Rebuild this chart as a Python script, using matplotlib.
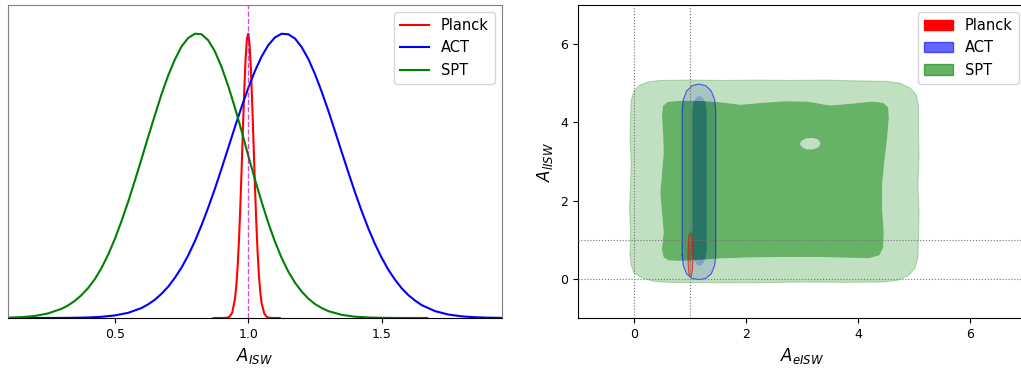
import numpy as np
import matplotlib
matplotlib.use('Agg')
import matplotlib.pyplot as plt
from matplotlib.path import Path
from matplotlib.patches import PathPatch, Patch

# 1D posteriors of A_ISW (normalised to peak)
spt_x = [0.10, 0.15, 0.20, 0.25, 0.300, 0.325, 0.350, 0.375, 0.400, 0.425, 0.450, 0.475,
         0.500, 0.525, 0.550, 0.575, 0.600, 0.625, 0.650, 0.675, 0.700, 0.725, 0.750,
         0.775, 0.800, 0.825, 0.850, 0.875, 0.900, 0.925, 0.950, 0.975, 1.000, 1.025,
         1.050, 1.075, 1.100, 1.125, 1.150, 1.175, 1.200, 1.225, 1.250, 1.275, 1.300,
         1.35, 1.40, 1.45, 1.50, 1.55, 1.60, 1.67]
spt_p = [0.001, 0.003, 0.007, 0.016, 0.032, 0.044, 0.060, 0.080, 0.105, 0.136, 0.175, 0.222,
         0.277, 0.340, 0.408, 0.482, 0.558, 0.636, 0.712, 0.786, 0.852, 0.908, 0.954,
         0.984, 0.999, 0.997, 0.976, 0.937, 0.882, 0.815, 0.739, 0.657, 0.570, 0.487,
         0.408, 0.334, 0.268, 0.211, 0.163, 0.124, 0.093, 0.068, 0.049, 0.035, 0.024,
         0.011, 0.0046, 0.0018, 0.0007, 0.0002, 0.0, 0.0]

act_x = [0.10, 0.20, 0.30, 0.35, 0.40, 0.45, 0.50, 0.55, 0.60, 0.625, 0.650, 0.675, 0.700,
         0.725, 0.750, 0.775, 0.800, 0.825, 0.850, 0.875, 0.900, 0.925, 0.950, 0.975,
         1.000, 1.025, 1.050, 1.075, 1.100, 1.125, 1.150, 1.175, 1.200, 1.225, 1.250,
         1.275, 1.300, 1.325, 1.350, 1.375, 1.400, 1.425, 1.450, 1.475, 1.500, 1.525,
         1.550, 1.575, 1.600, 1.625, 1.650, 1.70, 1.75, 1.80, 1.85, 1.90, 1.95]
act_p = [0.0, 0.0, 0.0003, 0.0008, 0.0018, 0.0042, 0.009, 0.018, 0.035, 0.048, 0.064, 0.085,
         0.110, 0.141, 0.177, 0.220, 0.270, 0.326, 0.388, 0.454, 0.525, 0.598, 0.671,
         0.742, 0.808, 0.868, 0.919, 0.959, 0.986, 0.999, 0.997, 0.982, 0.952, 0.910,
         0.857, 0.795, 0.728, 0.656, 0.583, 0.511, 0.441, 0.375, 0.314, 0.259, 0.211,
         0.169, 0.134, 0.104, 0.080, 0.061, 0.045, 0.024, 0.012, 0.0057, 0.0026, 0.0011,
         0.0004]

planck_x = [0.870, 0.900, 0.920, 0.930, 0.940, 0.950, 0.955, 0.960, 0.965, 0.970, 0.975,
            0.980, 0.985, 0.990, 0.995, 1.000, 1.005, 1.010, 1.015, 1.020, 1.025, 1.030,
            1.035, 1.040, 1.045, 1.050, 1.060, 1.070, 1.080, 1.100, 1.118]
planck_p = [0.0, 0.0, 0.0008, 0.0045, 0.019, 0.066, 0.111, 0.178, 0.270, 0.385, 0.520,
            0.664, 0.801, 0.912, 0.982, 0.999, 0.960, 0.872, 0.748, 0.607, 0.465, 0.337,
            0.230, 0.149, 0.091, 0.052, 0.015, 0.0033, 0.0006, 0.0, 0.0]

# 2D contours (95% / 68%) of A_eISW vs A_lISW
spt_outer = [(-0.07, 0.60), (-0.06, 1.20), (-0.08, 1.80), (-0.06, 2.40), (-0.05, 3.00),
             (-0.07, 3.60), (-0.06, 4.20), (-0.05, 4.55), (0.00, 4.80), (0.10, 4.95),
             (0.25, 5.03), (0.45, 5.07), (1.00, 5.08), (1.60, 5.07), (2.20, 5.08),
             (2.80, 5.07), (3.40, 5.08), (4.00, 5.06), (4.50, 5.05), (4.75, 5.00),
             (4.93, 4.88), (5.04, 4.70), (5.08, 4.45), (5.08, 3.80), (5.09, 3.10),
             (5.07, 2.40), (5.09, 1.70), (5.08, 1.00), (5.07, 0.55), (5.02, 0.28),
             (4.90, 0.08), (4.70, -0.04), (4.45, -0.08), (3.80, -0.09), (3.00, -0.08),
             (2.20, -0.10), (1.40, -0.10), (0.60, -0.09), (0.35, -0.06), (0.15, 0.02),
             (0.00, 0.15), (-0.05, 0.35)]
spt_inner = [(0.50, 0.75), (0.53, 1.20), (0.50, 1.70), (0.47, 2.20), (0.50, 2.70),
             (0.53, 3.20), (0.52, 3.70), (0.50, 4.20), (0.52, 4.42), (0.60, 4.52),
             (0.80, 4.55), (1.10, 4.55), (1.50, 4.52), (1.90, 4.45), (2.30, 4.50),
             (2.70, 4.54), (3.10, 4.53), (3.50, 4.43), (3.90, 4.48), (4.25, 4.53),
             (4.45, 4.50), (4.54, 4.38), (4.55, 4.10), (4.52, 3.60), (4.47, 3.00),
             (4.43, 2.40), (4.43, 1.80), (4.46, 1.20), (4.45, 0.80), (4.38, 0.60),
             (4.20, 0.53), (3.80, 0.54), (3.30, 0.56), (2.70, 0.56), (2.10, 0.55),
             (1.50, 0.52), (1.10, 0.48), (0.80, 0.46), (0.62, 0.47), (0.53, 0.55)]
spt_island = [(2.96, 3.45), (3.00, 3.54), (3.08, 3.59), (3.20, 3.60), (3.29, 3.56),
              (3.33, 3.47), (3.30, 3.37), (3.20, 3.31), (3.08, 3.31), (3.00, 3.37)]

act_outer = [(0.86, 0.60), (0.86, 1.50), (0.86, 2.50), (0.86, 3.50), (0.86, 4.30),
             (0.88, 4.58), (0.94, 4.80), (1.04, 4.94), (1.16, 4.98), (1.28, 4.94),
             (1.38, 4.80), (1.44, 4.58), (1.46, 4.30), (1.46, 3.50), (1.46, 2.50),
             (1.46, 1.50), (1.46, 0.60), (1.44, 0.34), (1.38, 0.13), (1.28, 0.01),
             (1.16, -0.02), (1.04, 0.01), (0.94, 0.13), (0.88, 0.34)]
act_inner = [(1.04, 0.75), (1.04, 2.00), (1.04, 3.50), (1.04, 4.30), (1.06, 4.50),
             (1.11, 4.63), (1.17, 4.68), (1.23, 4.63), (1.28, 4.50), (1.30, 4.30),
             (1.30, 3.50), (1.30, 2.00), (1.30, 0.75), (1.28, 0.52), (1.23, 0.38),
             (1.17, 0.33), (1.11, 0.38), (1.06, 0.52)]

planck_outer = [(1.01, 1.20), (1.035, 1.10), (1.05, 0.85), (1.055, 0.55), (1.045, 0.25),
                (1.025, 0.08), (1.005, 0.04), (0.985, 0.10), (0.97, 0.30), (0.965, 0.60),
                (0.97, 0.90), (0.985, 1.12)]
planck_inner = [(1.01, 0.98), (1.025, 0.80), (1.03, 0.55), (1.02, 0.30), (1.005, 0.22),
                (0.99, 0.32), (0.985, 0.60), (0.99, 0.85)]


def oriented(points, ccw):
    p = np.asarray(points, float)
    area = 0.5 * np.sum(p[:, 0] * np.roll(p[:, 1], -1) - np.roll(p[:, 0], -1) * p[:, 1])
    if (area > 0) != ccw:
        p = p[::-1]
    return p


def band(rings, **kw):
    # first ring filled, next one cut out, next filled again ...
    verts, codes = [], []
    for i, r in enumerate(rings):
        r = oriented(r, i % 2 == 0)
        verts += list(r) + [r[0]]
        codes += [Path.MOVETO] + [Path.LINETO] * (len(r) - 1) + [Path.CLOSEPOLY]
    return PathPatch(Path(verts, codes), **kw)


def outline(ax, points, **kw):
    p = np.asarray(points + points[:1])
    ax.plot(p[:, 0], p[:, 1], **kw)


fig = plt.figure(figsize=(10.21, 3.72), dpi=100)

# left: 1D
ax = fig.add_axes([0.0078, 0.1452, 0.4838, 0.8414])
ax.plot(planck_x, planck_p, color='red', lw=1.5, label='Planck')
ax.plot(act_x, act_p, color='blue', lw=1.5, label='ACT')
ax.plot(spt_x, spt_p, color='green', lw=1.5, label='SPT')
ax.axvline(1.0, color='m', ls='--', lw=1, alpha=0.7)
ax.set_xlim(0.1, 1.95)
ax.set_ylim(0, 1.1)
ax.set_yticks([])
ax.set_xticks([0.5, 1.0, 1.5])
ax.tick_params(labelsize=9)
for s in ['left', 'top', 'right']:
    ax.spines[s].set_color('0.5')
ax.set_xlabel(r'$A_{ISW}$', fontsize=12)
ax.legend(loc='upper right', fontsize=10.5)

# right: 2D
ax2 = fig.add_axes([0.5661, 0.1452, 0.4388, 0.8414])
ax2.add_patch(band([planck_outer, planck_inner], facecolor='#ff6666', edgecolor='none'))
ax2.add_patch(band([planck_inner], facecolor='#cc0000', edgecolor='none'))
outline(ax2, planck_outer, color='red', lw=0.8, alpha=0.7, zorder=4)

ax2.add_patch(band([act_outer, act_inner], facecolor='#9a9aff', edgecolor='none', alpha=0.6))
ax2.add_patch(band([act_inner], facecolor='blue', edgecolor='none', alpha=0.6))
outline(ax2, act_outer, color='blue', lw=0.8, alpha=0.6)

ax2.add_patch(band([spt_outer, spt_inner, spt_island], facecolor='#98ca98',
                   edgecolor='none', alpha=0.6))
ax2.add_patch(band([spt_inner, spt_island], facecolor='green', edgecolor='none', alpha=0.6))
outline(ax2, spt_outer, color='green', lw=0.8, alpha=0.25)

for v in [0, 1]:
    ax2.axvline(v, color='0.45', ls=':', lw=0.8, zorder=5)
    ax2.axhline(v, color='0.45', ls=':', lw=0.8, zorder=5)

ax2.set_xlim(-1, 7)
ax2.set_ylim(-1, 7)
ax2.set_xticks([0, 2, 4, 6])
ax2.set_yticks([0, 2, 4, 6])
ax2.tick_params(labelsize=9)
ax2.set_xlabel(r'$A_{eISW}$', fontsize=12)
ax2.set_ylabel(r'$A_{lISW}$', fontsize=12)
handles = [Patch(color='red', label='Planck'),
           Patch(color='blue', alpha=0.6, label='ACT'),
           Patch(color='green', alpha=0.6, label='SPT')]
ax2.legend(handles=handles, loc='upper right', fontsize=10.5)

fig.savefig('out.png', dpi=100)
